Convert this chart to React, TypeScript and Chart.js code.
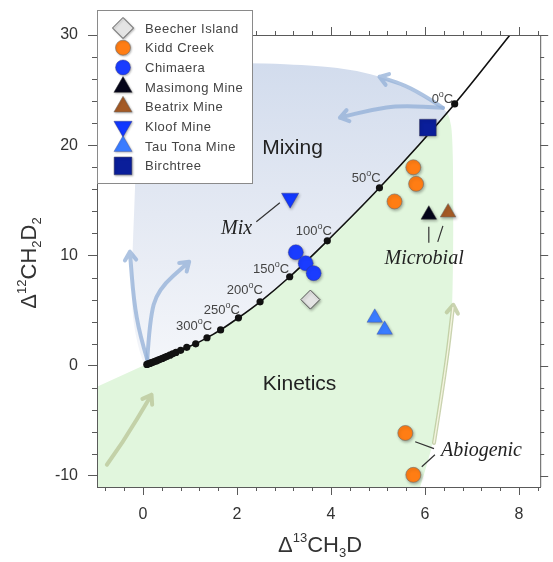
import React, { useEffect, useRef } from 'react';
import { Chart, registerables } from 'chart.js';
Chart.register(...registerables);

const SANS = '"Liberation Sans", Arial, Helvetica, sans-serif';
const SERIF = '"Liberation Serif", "Times New Roman", serif';
const AXIS = '#5a5a5a';

// ---- axes ----
const X_MIN = -0.98, X_MAX = 8.45, Y_MIN = -11, Y_MAX = 30;
const xMajorTicks = [0, 2, 4, 6, 8];
const yMajorTicks = [-10, 0, 10, 20, 30];
const xMinorStep = 0.4;
const yMinorStep = 2;

// ---- equilibrium curve ----
const curveX = [0.03, 0.1, 0.16, 0.23, 0.3, 0.38, 0.47, 0.57, 0.68, 0.8, 0.93, 1.12, 1.36, 1.65, 2.03, 2.49, 3.12, 3.92, 5.03, 6.63, 7.9];
const curveY = [0.05, 0.15, 0.25, 0.36, 0.48, 0.62, 0.78, 0.96, 1.17, 1.4, 1.67, 1.99, 2.54, 3.25, 4.35, 5.8, 8.07, 11.33, 16.14, 23.75, 30.5];
const tempDotX = [0.08, 0.11, 0.14, 0.17, 0.2, 0.24, 0.28, 0.32, 0.36, 0.41, 0.46, 0.51, 0.57, 0.63, 0.7, 0.8, 0.93, 1.12, 1.36, 1.65, 2.03, 2.49, 3.12, 3.92, 5.03, 6.63];
const tempDotY = [0.12, 0.17, 0.21, 0.26, 0.31, 0.38, 0.44, 0.51, 0.58, 0.66, 0.76, 0.85, 0.96, 1.08, 1.21, 1.4, 1.67, 1.99, 2.54, 3.25, 4.35, 5.8, 8.07, 11.33, 16.14, 23.75];
const tempLabels = ['0', '50', '100', '150', '200', '250', '300'];
const tempLabelX = [6.14, 4.44, 3.25, 2.34, 1.78, 1.29, 0.7];
const tempLabelY = [24.3, 17.1, 12.3, 8.9, 6.98, 5.17, 3.72];

// ---- samples ----
const beecherX = [3.56];
const beecherY = [6.0];
const kiddX = [5.75, 5.81, 5.35, 5.58, 5.75];
const kiddY = [18.0, 16.5, 14.9, -6.1, -9.9];
const chimaeraX = [3.25, 3.46, 3.63];
const chimaeraY = [10.3, 9.3, 8.4];
const masimongX = [6.08];
const masimongY = [13.7];
const beatrixX = [6.49];
const beatrixY = [13.9];
const kloofX = [3.13];
const kloofY = [15.2];
const tauTonaX = [4.93, 5.14];
const tauTonaY = [4.35, 3.26];
const birchtreeX = [6.06];
const birchtreeY = [21.6];

// ---- field shapes (annotation layer) ----
const mixEdgeX = [6.47, 6.25, 5.87, 5.18, 4.5, 3.77, 2.28, 1.2, 0.4, -0.05, -0.15, -0.17, -0.21, -0.24, -0.23, -0.17, -0.07, 0.02];
const mixEdgeY = [23.0, 23.8, 24.6, 26.1, 26.8, 27.2, 27.5, 27.3, 26.3, 24, 20, 16, 12, 8, 5, 3, 1.2, 0.2];
const kinEdgeX = [6.47, 6.53, 6.58, 6.6, 6.6, 6.57, 6.5, 6.4, 6.3, 6.17, 6.05, 5.96, 5.86];
const kinEdgeY = [23.0, 22.5, 21, 17, 10, 4, 0.5, -1.3, -4, -7, -8.8, -10.1, -11.5];

const blueArrows = [
  { x: [0.09, -0.07, -0.2, -0.28], y: [0.54, 2.81, 5.98, 10.34] },
  { x: [0.09, 0.14, 0.31, 0.98], y: [0.54, 4.17, 6.9, 9.43] },
  { x: [6.38, 5.75, 5.03], y: [23.39, 25.2, 26.2] },
  { x: [6.38, 5.54, 4.82, 4.19], y: [23.39, 23.66, 23.2, 22.5] },
];
const khakiArrows = [
  { x: [-0.77, -0.43, 0.18], y: [-8.98, -7.0, -2.63], hollow: false },
  { x: [6.19, 6.44, 6.6], y: [-7.0, -0.36, 5.53], hollow: true },
];

const regionLabels = ['Mixing', 'Kinetics'];
const regionLabelX = [3.18, 3.33];
const regionLabelY = [19.76, -1.72];
const italicLabels = ['Mix', 'Microbial', 'Abiogenic'];
const italicLabelX = [1.99, 5.98, 7.2];
const italicLabelY = [12.42, 9.7, -7.7];
const leaderLines = [
  [2.41, 13.06, 2.91, 14.78],
  [6.08, 12.6, 6.08, 11.15],
  [6.38, 12.69, 6.27, 11.24],
  [5.79, -6.89, 6.19, -7.52],
  [5.93, -9.16, 6.21, -8.07],
];

const legendNames = ['Beecher Island', 'Kidd Creek', 'Chimaera', 'Masimong Mine', 'Beatrix Mine', 'Kloof Mine', 'Tau Tona Mine', 'Birchtree'];

const pts = (xs: number[], ys: number[]) => xs.map((x, i) => ({ x, y: ys[i] }));

type Marker = { style: string; fill: string; stroke: string; r: number; lr: number; rot?: number };
const markers: Marker[] = [
  { style: 'rectRot', fill: '#e4e4e4', stroke: '#555', r: 9.5, lr: 10.5 },
  { style: 'circle', fill: '#ff7d14', stroke: 'rgba(110,110,110,0.6)', r: 7.5, lr: 7.5 },
  { style: 'circle', fill: '#1a3cff', stroke: 'rgba(60,60,120,0.4)', r: 7.5, lr: 7.5 },
  { style: 'triangle', fill: '#05051a', stroke: 'rgba(60,60,60,0.5)', r: 9, lr: 10.5 },
  { style: 'triangle', fill: '#a45a26', stroke: 'rgba(110,110,110,0.5)', r: 9, lr: 10.5 },
  { style: 'triangle', fill: '#1238ff', stroke: 'rgba(60,60,120,0.4)', r: 10, lr: 10.5, rot: 180 },
  { style: 'triangle', fill: '#3a7cff', stroke: 'rgba(60,60,120,0.3)', r: 9, lr: 10.5 },
  { style: 'rect', fill: '#0a1e9a', stroke: 'rgba(60,60,90,0.5)', r: 11.8, lr: 12.5 },
];
const sampleX = [beecherX, kiddX, chimaeraX, masimongX, beatrixX, kloofX, tauTonaX, birchtreeX];
const sampleY = [beecherY, kiddY, chimaeraY, masimongY, beatrixY, kloofY, tauTonaY, birchtreeY];

function smoothPath(ctx: CanvasRenderingContext2D, p: { x: number; y: number }[], startMove: boolean) {
  if (startMove) ctx.moveTo(p[0].x, p[0].y); else ctx.lineTo(p[0].x, p[0].y);
  for (let i = 1; i < p.length - 1; i++) {
    const mx = (p[i].x + p[i + 1].x) / 2, my = (p[i].y + p[i + 1].y) / 2;
    ctx.quadraticCurveTo(p[i].x, p[i].y, mx, my);
  }
  ctx.lineTo(p[p.length - 1].x, p[p.length - 1].y);
}

function drawRich(ctx: CanvasRenderingContext2D, segs: { t: string; size: number; dy: number; style?: string; family?: string }[], x: number, y: number, align: 'left' | 'center') {
  let total = 0;
  const widths = segs.map((s) => {
    ctx.font = `${s.style || ''} ${s.size}px ${s.family || SANS}`;
    const w = ctx.measureText(s.t).width;
    total += w;
    return w;
  });
  let cx = align === 'center' ? x - total / 2 : x;
  ctx.textAlign = 'left';
  ctx.textBaseline = 'alphabetic';
  segs.forEach((s, i) => {
    ctx.font = `${s.style || ''} ${s.size}px ${s.family || SANS}`;
    ctx.fillText(s.t, cx, y + s.dy);
    cx += widths[i];
  });
}

function drawMarker(ctx: CanvasRenderingContext2D, m: Marker, x: number, y: number, r: number) {
  ctx.beginPath();
  if (m.style === 'circle') {
    ctx.arc(x, y, r, 0, Math.PI * 2);
  } else if (m.style === 'rectRot') {
    ctx.moveTo(x, y - r); ctx.lineTo(x + r, y); ctx.lineTo(x, y + r); ctx.lineTo(x - r, y); ctx.closePath();
  } else if (m.style === 'rect') {
    const s = r * Math.SQRT1_2;
    ctx.rect(x - s, y - s, 2 * s, 2 * s);
  } else {
    const d = m.rot ? -1 : 1;
    ctx.moveTo(x, y - d * r);
    ctx.lineTo(x + 0.866 * r, y + d * 0.5 * r);
    ctx.lineTo(x - 0.866 * r, y + d * 0.5 * r);
    ctx.closePath();
  }
  ctx.fillStyle = m.fill;
  ctx.fill();
  ctx.lineWidth = 1;
  ctx.strokeStyle = m.stroke;
  ctx.stroke();
}

function drawArrow(ctx: CanvasRenderingContext2D, p: { x: number; y: number }[], color: string, width: number, inner?: string) {
  ctx.save();
  ctx.lineCap = 'round';
  ctx.lineJoin = 'round';
  const n = p.length;
  const ang = Math.atan2(p[n - 1].y - p[n - 2].y, p[n - 1].x - p[n - 2].x);
  const L = 10, A = 0.6;
  const head = () => {
    ctx.moveTo(p[n - 1].x - L * Math.cos(ang - A), p[n - 1].y - L * Math.sin(ang - A));
    ctx.lineTo(p[n - 1].x, p[n - 1].y);
    ctx.lineTo(p[n - 1].x - L * Math.cos(ang + A), p[n - 1].y - L * Math.sin(ang + A));
  };
  ctx.strokeStyle = color;
  ctx.lineWidth = width;
  ctx.beginPath();
  smoothPath(ctx, p, true);
  head();
  ctx.stroke();
  if (inner) {
    ctx.strokeStyle = inner;
    ctx.lineWidth = width * 0.35;
    ctx.beginPath();
    smoothPath(ctx, p.slice(0, n - 1).concat([{ x: p[n - 1].x - 3 * Math.cos(ang), y: p[n - 1].y - 3 * Math.sin(ang) }]), true);
    ctx.stroke();
  }
  ctx.restore();
}

const fieldsPlugin = {
  id: 'fields',
  beforeDraw(chart: any) {
    const { ctx, chartArea: a, scales } = chart;
    const X = (v: number) => scales.x.getPixelForValue(v);
    const Y = (v: number) => scales.y.getPixelForValue(v);
    ctx.save();
    ctx.fillStyle = '#fff';
    ctx.fillRect(0, 0, chart.width, chart.height);
    ctx.beginPath();
    ctx.rect(a.left, a.top, a.right - a.left, a.bottom - a.top);
    ctx.clip();
    // kinetics (green)
    ctx.beginPath();
    ctx.moveTo(X(-1.2), Y(-2.33));
    ctx.lineTo(X(0), Y(0));
    const kin = pts(kinEdgeX, kinEdgeY).map((q) => ({ x: X(q.x), y: Y(q.y) }));
    smoothPath(ctx, kin, false);
    ctx.lineTo(X(-1.2), Y(-11.5));
    ctx.closePath();
    ctx.fillStyle = 'rgb(225,246,221)';
    ctx.fill();
    // mixing (blue gradient)
    ctx.beginPath();
    const curve = pts(curveX, curveY).filter((q) => q.x < 6.4).map((q) => ({ x: X(q.x), y: Y(q.y) }));
    ctx.moveTo(curve[0].x, curve[0].y);
    curve.forEach((q) => ctx.lineTo(q.x, q.y));
    const mix = pts(mixEdgeX, mixEdgeY).map((q) => ({ x: X(q.x), y: Y(q.y) }));
    smoothPath(ctx, mix, false);
    ctx.closePath();
    const g = ctx.createLinearGradient(0, Y(27.5), 0, Y(0));
    g.addColorStop(0, 'rgb(210,220,237)');
    g.addColorStop(0.5, 'rgb(228,233,243)');
    g.addColorStop(1, 'rgb(244,246,250)');
    ctx.fillStyle = g;
    ctx.fill();
    ctx.restore();
  },
  beforeDatasetsDraw(chart: any) {
    const { ctx, chartArea: a, scales } = chart;
    const X = (v: number) => scales.x.getPixelForValue(v);
    const Y = (v: number) => scales.y.getPixelForValue(v);
    ctx.save();
    ctx.beginPath();
    ctx.rect(a.left, a.top, a.right - a.left, a.bottom - a.top);
    ctx.clip();
    blueArrows.forEach((ar) => drawArrow(ctx, pts(ar.x, ar.y).map((q) => ({ x: X(q.x), y: Y(q.y) })), 'rgba(145,175,215,0.75)', 4));
    khakiArrows.forEach((ar) => drawArrow(ctx, pts(ar.x, ar.y).map((q) => ({ x: X(q.x), y: Y(q.y) })), 'rgba(184,196,150,0.75)', 4, ar.hollow ? 'rgba(245,245,225,0.95)' : undefined));
    ctx.restore();
  },
  beforeDatasetDraw(chart: any, args: any) {
    const ds = chart.data.datasets[args.index];
    if (ds.label && ds.label !== 'curve' && ds.label !== 'dots') {
      chart.ctx.save();
      chart.ctx.shadowColor = 'rgba(0,0,0,0.3)';
      chart.ctx.shadowBlur = 3;
      chart.ctx.shadowOffsetX = 1;
      chart.ctx.shadowOffsetY = 1.5;
    }
  },
  afterDatasetDraw(chart: any, args: any) {
    const ds = chart.data.datasets[args.index];
    if (ds.label && ds.label !== 'curve' && ds.label !== 'dots') chart.ctx.restore();
  },
  afterDraw(chart: any) {
    const { ctx, chartArea: a, scales } = chart;
    const X = (v: number) => scales.x.getPixelForValue(v);
    const Y = (v: number) => scales.y.getPixelForValue(v);
    ctx.save();
    // frame and minor ticks
    ctx.strokeStyle = AXIS;
    ctx.lineWidth = 1;
    ctx.beginPath();
    ctx.moveTo(a.left, a.top + 0.5);
    ctx.lineTo(a.right + 0.5, a.top + 0.5);
    ctx.lineTo(a.right + 0.5, a.bottom);
    for (let i = Math.ceil(X_MIN / xMinorStep); i <= Math.floor(X_MAX / xMinorStep); i++) {
      const major = i % 5 === 0;
      const p = Math.round(X(i * xMinorStep)) + 0.5;
      if (!major) { ctx.moveTo(p, a.bottom); ctx.lineTo(p, a.bottom + 4); }
      ctx.moveTo(p, a.top); ctx.lineTo(p, a.top - (major ? 8 : 4));
    }
    for (let i = Math.ceil(Y_MIN / yMinorStep); i <= Math.floor(Y_MAX / yMinorStep); i++) {
      const major = i % 5 === 0;
      const p = Math.round(Y(i * yMinorStep)) + 0.5;
      if (!major) { ctx.moveTo(a.left, p); ctx.lineTo(a.left - 5, p); }
      ctx.moveTo(a.right, p); ctx.lineTo(a.right + (major ? 8 : 4), p);
    }
    ctx.stroke();

    // temperature labels
    ctx.fillStyle = '#444';
    tempLabels.forEach((t, i) => {
      drawRich(ctx, [
        { t, size: 13, dy: 0 },
        { t: 'o', size: 9, dy: -6 },
        { t: 'C', size: 13, dy: 0 },
      ], X(tempLabelX[i]), Y(tempLabelY[i]) + 5, 'left');
    });
    // region labels
    ctx.fillStyle = '#222';
    ctx.textAlign = 'center';
    ctx.textBaseline = 'middle';
    ctx.font = `21px ${SANS}`;
    regionLabels.forEach((t, i) => ctx.fillText(t, X(regionLabelX[i]), Y(regionLabelY[i])));
    ctx.font = `italic 20px ${SERIF}`;
    italicLabels.forEach((t, i) => ctx.fillText(t, X(italicLabelX[i]), Y(italicLabelY[i])));
    ctx.strokeStyle = '#333';
    ctx.lineWidth = 1.2;
    ctx.beginPath();
    leaderLines.forEach((l) => { ctx.moveTo(X(l[0]), Y(l[1])); ctx.lineTo(X(l[2]), Y(l[3])); });
    ctx.stroke();

    // axis titles
    ctx.fillStyle = '#333';
    drawRich(ctx, [
      { t: 'Δ', size: 22, dy: 0 },
      { t: '13', size: 13, dy: -10 },
      { t: 'CH', size: 22, dy: 0 },
      { t: '3', size: 13, dy: 5 },
      { t: 'D', size: 22, dy: 0 },
    ], 320, 552, 'center');
    ctx.save();
    ctx.translate(36, 263);
    ctx.rotate(-Math.PI / 2);
    drawRich(ctx, [
      { t: 'Δ', size: 22, dy: 0 },
      { t: '12', size: 13, dy: -10 },
      { t: 'CH', size: 22, dy: 0 },
      { t: '2', size: 13, dy: 5 },
      { t: 'D', size: 22, dy: 0 },
      { t: '2', size: 13, dy: 5 },
    ], 0, 0, 'center');
    ctx.restore();

    // legend
    ctx.fillStyle = '#fff';
    ctx.fillRect(97, 10, 155, 173);
    ctx.strokeStyle = '#8a8a8a';
    ctx.lineWidth = 1;
    ctx.strokeRect(97.5, 10.5, 155, 173);
    legendNames.forEach((name, i) => {
      const yy = 28 + i * 19.7;
      ctx.save();
      ctx.shadowColor = 'rgba(0,0,0,0.25)';
      ctx.shadowBlur = 2;
      ctx.shadowOffsetX = 1;
      ctx.shadowOffsetY = 1;
      drawMarker(ctx, markers[i], 123, yy, markers[i].lr);
      ctx.restore();
      ctx.fillStyle = '#444';
      ctx.font = `13px ${SANS}`;
      ctx.textAlign = 'left';
      ctx.textBaseline = 'middle';
      (ctx as any).letterSpacing = '0.5px';
      ctx.fillText(name, 145, yy + 1);
      (ctx as any).letterSpacing = '0px';
    });
    ctx.restore();
  },
};

export default function App() {
  const ref = useRef<HTMLCanvasElement>(null);
  useEffect(() => {
    const canvas = ref.current!;
    const sampleSets = legendNames.map((name, i) => {
      const m = markers[i];
      return {
        label: name,
        data: pts(sampleX[i], sampleY[i]),
        pointStyle: m.style,
        pointRadius: m.r,
        pointRotation: m.rot || 0,
        backgroundColor: m.fill,
        borderColor: m.stroke,
        borderWidth: 1,
        showLine: false,
        order: 1,
      };
    });
    const chart = new Chart(canvas, {
      type: 'scatter',
      data: {
        datasets: [
          ...sampleSets,
          {
            label: 'dots',
            data: pts(tempDotX, tempDotY),
            pointRadius: 3.6,
            pointStyle: 'circle',
            backgroundColor: '#111',
            borderColor: '#111',
            borderWidth: 0,
            showLine: false,
            order: 5,
          },
          {
            label: 'curve',
            data: pts(curveX, curveY),
            showLine: true,
            borderColor: '#111',
            borderWidth: 1.6,
            pointRadius: 0,
            cubicInterpolationMode: 'monotone',
            order: 6,
          },
        ] as any,
      },
      options: {
        responsive: false,
        animation: false,
        devicePixelRatio: 1,
        layout: { padding: { top: 35, right: 7, left: 0, bottom: 0 } },
        plugins: { legend: { display: false }, tooltip: { enabled: false } },
        scales: {
          x: {
            type: 'linear',
            min: X_MIN,
            max: X_MAX,
            afterFit: (s: any) => { s.height = 75; },
            afterBuildTicks: (s: any) => { s.ticks = xMajorTicks.map((v) => ({ value: v })); },
            grid: { drawOnChartArea: false, tickLength: 8, color: AXIS },
            border: { color: AXIS, width: 1 },
            ticks: { font: { family: SANS, size: 16 }, color: '#333', padding: 10, maxRotation: 0, autoSkip: false },
          },
          y: {
            type: 'linear',
            min: Y_MIN,
            max: Y_MAX,
            afterFit: (s: any) => { s.width = 97; },
            afterBuildTicks: (s: any) => { s.ticks = yMajorTicks.map((v) => ({ value: v })); },
            grid: { drawOnChartArea: false, tickLength: 9, color: AXIS },
            border: { color: AXIS, width: 1 },
            ticks: { font: { family: SANS, size: 16 }, color: '#333', padding: 10, autoSkip: false },
          },
        },
      } as any,
      plugins: [fieldsPlugin],
    });
    return () => chart.destroy();
  }, []);
  return (
    <div style={{ position: 'absolute', left: 0, top: 0, width: 553, height: 562, background: '#fff' }}>
      <canvas ref={ref} width={553} height={562} style={{ display: 'block', width: 553, height: 562 }} />
    </div>
  );
}
